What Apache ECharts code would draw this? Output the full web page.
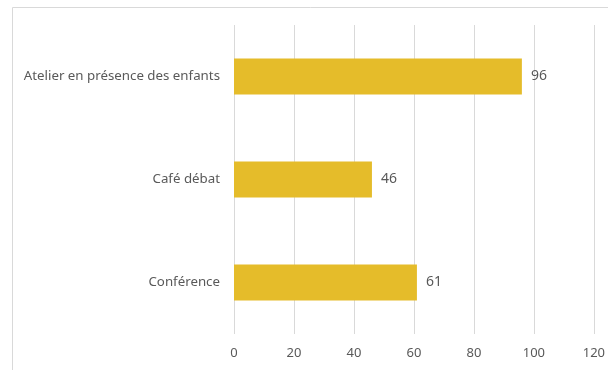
<!DOCTYPE html>
<html>
<head>
<meta charset="utf-8">
<script src="https://cdn.jsdelivr.net/npm/echarts@6/dist/echarts.min.js"></script>
<style>
  html, body { margin: 0; padding: 0; background: #fff; }
  #chart { width: 608px; height: 370px; }
</style>
</head>
<body>
<div id="chart"></div>
<script>
// ateliers et nombre de participants
const categories = ['Atelier en présence des enfants', 'Café débat', 'Conférence']
const values = [96, 46, 61]
const xTicks = [0, 20, 40, 60, 80, 100, 120]

const chart = echarts.init(document.getElementById('chart'))
const textColor = '#595959'
const lineColor = '#D9D9D9'

const option = {
  animation: false,
  textStyle: { fontFamily: 'Noto Sans' },
  graphic: [
    {
      type: 'rect',
      shape: { x: 12.5, y: 7.5, width: 800, height: 600 },
      style: { fill: 'none', stroke: lineColor, lineWidth: 1 }
    }
  ],
  grid: { left: 234, right: 14, top: 25, bottom: 36, containLabel: false },
  xAxis: {
    type: 'value',
    min: xTicks[0],
    max: xTicks[xTicks.length - 1],
    interval: 20,
    axisLine: { show: false },
    axisTick: { show: false },
    splitLine: { lineStyle: { color: lineColor, width: 1 } },
    axisLabel: { color: textColor, fontSize: 13, margin: 13 }
  },
  yAxis: {
    type: 'category',
    data: categories,
    inverse: true,
    axisLine: { show: false },
    axisTick: { show: false },
    axisLabel: { color: textColor, fontSize: 13.3, margin: 14 }
  },
  series: [
    {
      type: 'bar',
      data: values,
      barWidth: 36,
      itemStyle: { color: '#E5BC2A' },
      label: {
        show: true,
        position: 'right',
        distance: 9,
        color: textColor,
        fontSize: 14
      }
    }
  ]
}
chart.setOption(option)
</script>
</body>
</html>
